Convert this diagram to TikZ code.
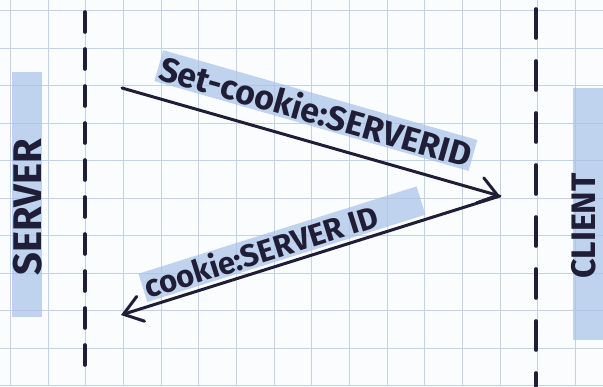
\documentclass[tikz,border=0pt]{standalone}
\usepackage{fontspec}
\setsansfont{Fira Sans}
\usetikzlibrary{arrows.meta}
\definecolor{cink}{HTML}{1F1E36}
\definecolor{cgrid}{HTML}{C3D2E4}
\definecolor{chigh}{HTML}{A7C2E8}
\definecolor{cpaper}{HTML}{FBFCFE}
\tikzset{
  every picture/.style={font=\sffamily\bfseries, line width=3pt},
  gridline/.style={draw=cgrid, line width=0.8pt},
  lifeline/.style={draw=cink, line width=3.6pt, line cap=round, dash pattern=on #1},
  msg/.style={draw=cink, line width=3pt, line cap=round},
  tipbig/.tip={Straight Barb[length=18pt, width=26pt, line cap=round]},
  lbl/.style={text=cink, fill=chigh, fill opacity=0.7, text opacity=1, inner sep=2pt,
    font=\sffamily\bfseries\fontsize{#1}{#1}\selectfont},
  actor/.style={text=cink, rotate=90, inner sep=1pt, font=\sffamily\bfseries\fontsize{#1}{#1}\selectfont},
  band/.style={fill=chigh, fill opacity=0.7},
}

\begin{document}
\begin{tikzpicture}[x=1pt, y=-1pt]
  \useasboundingbox[fill=cpaper] (0,0) rectangle (603,386);
  \foreach \gx in {0,...,15} \draw[gridline] ({10.3+37.67*\gx},0) -- ++(0,386);
  \foreach \gy in {0,...,10} \draw[gridline] (0,{10.8+37.5*\gy}) -- ++(603,0);

  \coordinate (srvtop) at (85,12);
  \coordinate (srvbot) at (85,372);
  \coordinate (clttop) at (536,9);
  \coordinate (cltbot) at (536,386);
  \draw[lifeline={20pt off 17pt}] (srvtop) -- (srvbot);
  \draw[lifeline={29pt off 23pt}] (clttop) -- (cltbot);

  \fill[band] (12,72) rectangle (42,317);
  \fill[band] (573,88) rectangle (603,340);
  \node[actor=40] (server) at (28,207) {SERVER};
  \node[actor=34] (client) at (584,226) {CLIENT};

  \coordinate (srvout) at (122,88);
  \coordinate (cltin) at (500,196);
  \coordinate (srvin) at (121,315);
  \draw[msg, -{tipbig}] (srvout) -- node[lbl=34, sloped, above=14pt, pos=0.49] (setlbl) {Set-cookie:SERVERID} (cltin);
  \draw[msg, {tipbig}-] (srvin) -- node[lbl=31, sloped, above=3pt, pos=0.44] (cklbl) {cookie:SERVER ID\hspace*{44pt}} (cltin);
\end{tikzpicture}
\end{document}
